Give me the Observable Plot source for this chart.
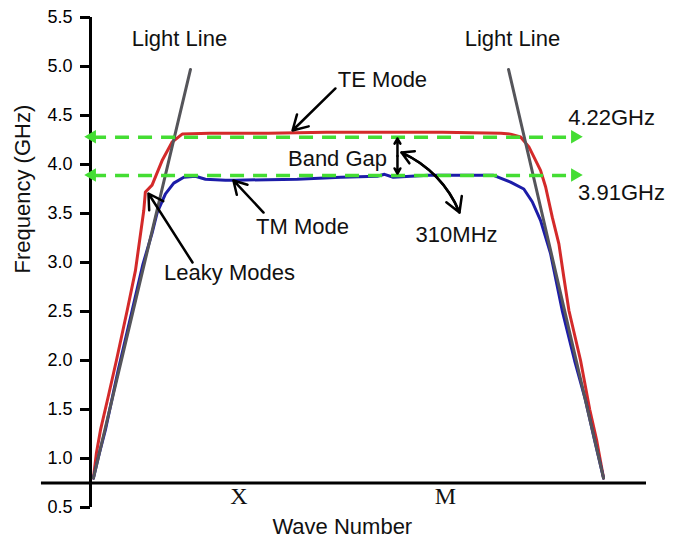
<!DOCTYPE html>
<html>
<head>
<meta charset="utf-8">
<script src="https://cdn.jsdelivr.net/npm/d3@7"></script>
<script src="https://cdn.jsdelivr.net/npm/@observablehq/plot@0.6"></script>
<style>
  html, body { margin: 0; padding: 0; background: #fff; }
  #chart { width: 680px; height: 542px; }
</style>
</head>
<body>
<div id="chart"></div>
<script>
// ---- Data (wave number in arbitrary path units, frequency in GHz) ----
const teX = [0, 0.02, 0.05, 0.10, 0.158, 0.232, 0.289, 0.346, 0.357, 0.403, 0.472, 0.541, 0.61, 0.8, 1.2, 1.6, 2.0, 2.4, 2.8, 2.866, 2.935, 2.992, 3.072, 3.107, 3.153, 3.198, 3.232, 3.267, 3.347, 3.41, 3.457, 3.505];
const teY = [0.80, 1.05, 1.30, 1.62, 2.0, 2.51, 2.92, 3.53, 3.72, 3.79, 4.04, 4.23, 4.31, 4.32, 4.32, 4.33, 4.33, 4.33, 4.32, 4.31, 4.28, 4.18, 3.94, 3.77, 3.46, 3.19, 2.85, 2.51, 2.0, 1.5, 1.19, 0.80];

const tmX = [0, 0.04, 0.082, 0.17, 0.266, 0.34, 0.403, 0.438, 0.495, 0.552, 0.621, 0.701, 0.77, 0.907, 0.976, 1.2, 1.4, 1.7, 1.95, 2.0, 2.06, 2.3, 2.5, 2.749, 2.866, 2.957, 3.015, 3.072, 3.141, 3.221, 3.306, 3.38, 3.443, 3.505];
const tmY = [0.80, 1.05, 1.29, 1.90, 2.51, 2.98, 3.30, 3.51, 3.70, 3.81, 3.87, 3.88, 3.85, 3.84, 3.84, 3.845, 3.85, 3.87, 3.88, 3.90, 3.87, 3.89, 3.89, 3.89, 3.82, 3.75, 3.62, 3.43, 3.09, 2.51, 2.0, 1.6, 1.19, 0.80];

const lightLeftX = [0, 0.667];
const lightLeftY = [0.80, 4.97];
const lightRightX = [2.852, 3.505];
const lightRightY = [4.97, 0.80];

// band-edge guide levels (as drawn) and their extent
const gapLevels = [4.279, 3.888];
const gapX1 = -0.006;
const gapX2 = 3.312;

// axes
const yTicks = [0.5, 1.0, 1.5, 2.0, 2.5, 3.0, 3.5, 4.0, 4.5, 5.0, 5.5];
const xTickPos = [1.0, 2.419];
const xTickLabels = ["X", "M"];
const baselineY = 0.75;
const baselineX1 = -0.357;
const baselineX2 = 3.80;

// annotations
const noteText = ["Light Line", "Light Line", "TE Mode", "Band Gap", "TM Mode", "310MHz", "Leaky Modes", "4.22GHz", "3.91GHz"];
const noteX    = [0.591, 2.879, 1.986, 1.677, 1.437, 2.495, 0.935, 3.56, 3.628];
const noteY    = [5.286, 5.286, 4.867, 4.061, 3.367, 3.286, 2.898, 4.48, 3.714];

// straight pointer arrows: TE, TM, Leaky, band-gap up, band-gap down
const arrX1 = [1.663, 1.169, 0.681, 2.089, 2.089];
const arrY1 = [4.776, 3.510, 3.000, 4.087, 4.087];
const arrX2 = [1.368, 0.962, 0.378, 2.089, 2.089];
const arrY2 = [4.347, 3.837, 3.704, 4.265, 3.908];

// curved arrow from the gap arrow to "310MHz"
const curveX1 = 2.117, curveY1 = 4.122, curveX2 = 2.515, curveY2 = 3.51;

// ---- Build tables ----
const te = teX.map((x, i) => ({x, y: teY[i]}));
const tm = tmX.map((x, i) => ({x, y: tmY[i]}));
const lightL = lightLeftX.map((x, i) => ({x, y: lightLeftY[i]}));
const lightR = lightRightX.map((x, i) => ({x, y: lightRightY[i]}));
const notes = noteText.map((t, i) => ({t, x: noteX[i], y: noteY[i]}));
const arrows = arrX1.map((x1, i) => ({x1, y1: arrY1[i], x2: arrX2[i], y2: arrY2[i]}));
const heads = gapLevels.flatMap(y => [{x: gapX1, y, rot: -90, dx: 5}, {x: gapX2, y, rot: 90, dx: -5}]);
const xTicksData = xTickPos.map((x, i) => ({x, t: xTickLabels[i]}));

const RED = "#d42a2a", BLUE = "#1c1ca8", GRAY = "#55555a", GREEN = "#44dd33";

const chart = Plot.plot({
  width: 680,
  height: 542,
  marginLeft: 90,
  marginRight: 34,
  marginTop: 17,
  marginBottom: 35,
  x: {domain: [-0.02, 3.80], axis: null},
  y: {domain: [0.5, 5.5], axis: null},
  style: {fontFamily: "'Liberation Sans', Arial, sans-serif", fontSize: "18px", background: "white", color: "black", overflow: "visible"},
  marks: [
    // horizontal baseline
    Plot.ruleY([baselineY], {x1: baselineX1, x2: baselineX2, stroke: "black", strokeWidth: 3}),
    // y axis line + ticks
    Plot.ruleX([-0.02], {stroke: "black", strokeWidth: 3}),
    Plot.axisY({ticks: yTicks, tickFormat: d => d.toFixed(1), tickSize: 10, tickPadding: 8, strokeWidth: 3, fontSize: 18, label: null}),
    // curves
    Plot.line(te, {x: "x", y: "y", stroke: RED, strokeWidth: 3}),
    Plot.line(tm, {x: "x", y: "y", stroke: BLUE, strokeWidth: 3}),
    Plot.line(lightL, {x: "x", y: "y", stroke: GRAY, strokeWidth: 3}),
    Plot.line(lightR, {x: "x", y: "y", stroke: GRAY, strokeWidth: 3}),
    // band-edge dashed guides
    Plot.ruleY(gapLevels, {x1: gapX1, x2: gapX2, stroke: GREEN, strokeWidth: 3.5, strokeDasharray: "14,9"}),
    Plot.dot(heads, {x: "x", y: "y", rotate: "rot", dx: "dx", symbol: "triangle", r: 5, fill: GREEN, stroke: "none"}),
    // pointer arrows
    Plot.arrow(arrows, {x1: "x1", y1: "y1", x2: "x2", y2: "y2", stroke: "black", strokeWidth: 2.5, headLength: 10}),
    Plot.arrow([{}], {x1: curveX1, y1: curveY1, x2: curveX2, y2: curveY2, bend: 22, stroke: "black", strokeWidth: 2.5, headLength: 10}),
    Plot.arrow([{}], {x1: curveX2, y1: curveY2, x2: curveX1, y2: curveY1, bend: -22, stroke: "black", strokeWidth: 2.5, headLength: 8}),
    // annotation text
    Plot.text(notes, {x: "x", y: "y", text: "t", fontSize: 22, fill: "#111"}),
    // x tick labels
    Plot.text(xTicksData, {x: "x", text: "t", frameAnchor: "bottom", dy: -4, fontSize: 24, fontFamily: "'Liberation Serif', 'Times New Roman', serif", fill: "#111"}),
    // axis titles
    Plot.text(["Wave Number"], {x: 1.71, frameAnchor: "bottom", dy: 26, fontSize: 22, fill: "#111"}),
    Plot.text(["Frequency (GHz)"], {frameAnchor: "left", dx: -68, dy: 11, rotate: -90, fontSize: 22, fill: "#111"})
  ]
});
document.getElementById("chart").appendChild(chart);
</script>
</body>
</html>
